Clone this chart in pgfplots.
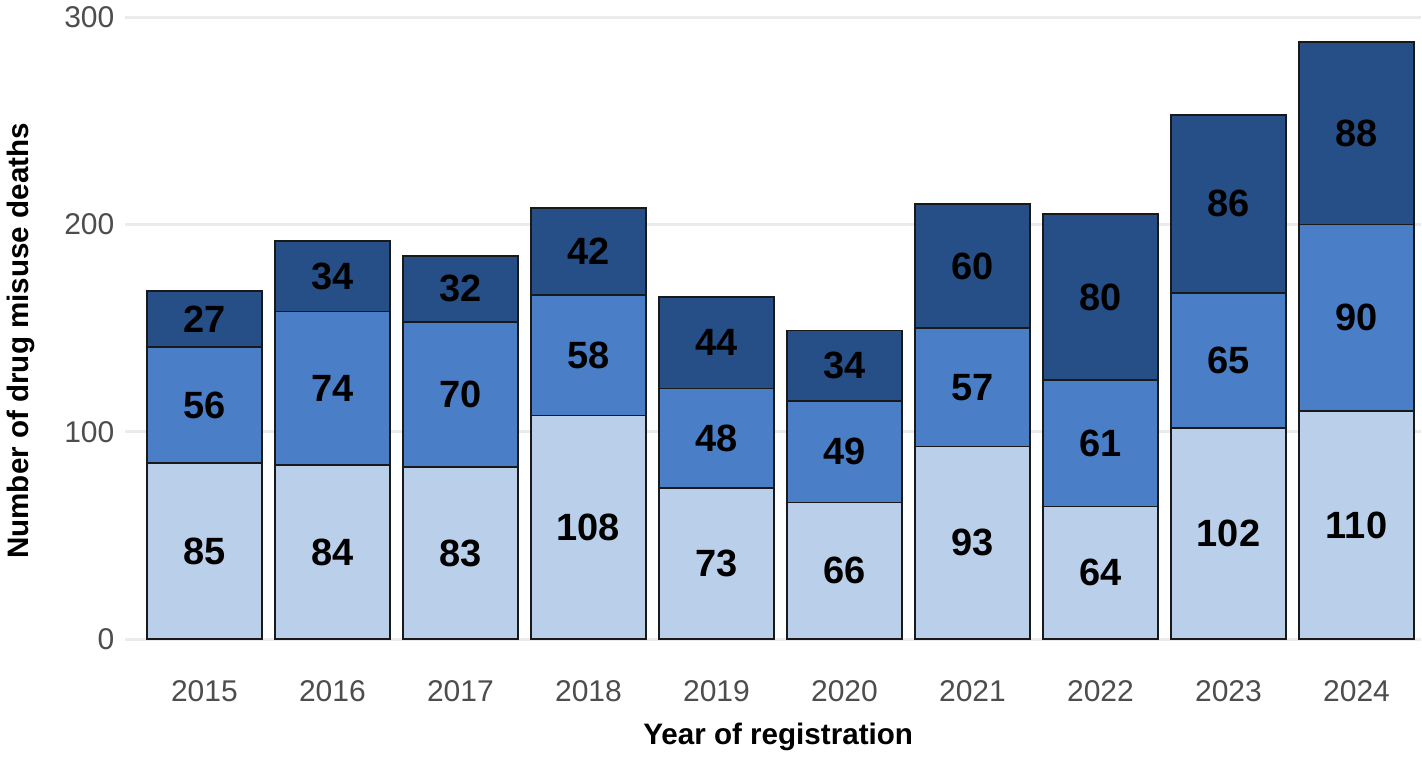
\documentclass[border=0pt]{standalone}
\usepackage{pgfplots}
\pgfplotsset{compat=1.18}
\usepackage{pgfplotstable}
\usepackage{fontspec}
\setmainfont{Liberation Sans}
\definecolor{c1}{HTML}{BACFE9}
\definecolor{c2}{HTML}{4A7EC7}
\definecolor{c3}{HTML}{264F88}
\definecolor{gridgray}{HTML}{EBEBEB}
\definecolor{tickgray}{HTML}{4D4D4D}
\pgfplotstableread{
x a b c
0 85 56 27
1 84 74 34
2 83 70 32
3 108 58 42
4 73 48 44
5 66 49 34
6 93 57 60
7 64 61 80
8 102 65 86
9 110 90 88
}\data
\pgfplotsset{base/.style={
  scale only axis, width=647.5pt, height=334.8pt,
  xmin=-0.617, xmax=9.5, ymin=-15, ymax=308,
  /pgf/number format/assume math mode=true,
}}
\begin{document}
\begin{tikzpicture}
\begin{axis}[base,
  ybar stacked, bar width=0.9,
  axis line style={draw=none}, major tick length=0pt,
  ytick={0,100,200,300}, ymajorgrids,
  grid style={color=gridgray, line width=1.5pt},
  xtick={0,...,9}, xticklabels={2015,2016,2017,2018,2019,2020,2021,2022,2023,2024},
  tick label style={font=\fontsize{15}{18}\selectfont, text=tickgray},
  xticklabel style={anchor=center, yshift=-10.5pt},
  yticklabel style={xshift=-2pt},
  xlabel={Year of registration}, ylabel={Number of drug misuse deaths},
  label style={font=\bfseries\fontsize{14.8}{17}\selectfont},
  xlabel style={at={(axis description cs:0.504,0)}, anchor=center, yshift=-33.5pt},
  ylabel style={at={(axis description cs:-0.081,0.492)}, anchor=center},
]
\addplot[fill=c1, draw=black!90, line width=0.8pt] table[x=x, y=a] {\data};
\addplot[fill=c2, draw=black!90, line width=0.8pt] table[x=x, y=b] {\data};
\addplot[fill=c3, draw=black!90, line width=0.8pt] table[x=x, y=c] {\data};
\end{axis}
\begin{axis}[base, hide axis,
  nodes near coords, point meta=explicit,
  every node near coord/.style={anchor=center, text=black, font=\bfseries\fontsize{19}{22}\selectfont},
]
\addplot[draw=none, mark=none] table[x=x, y expr=\thisrow{a}/2, meta=a] {\data};
\addplot[draw=none, mark=none] table[x=x, y expr=\thisrow{a}+\thisrow{b}/2, meta=b] {\data};
\addplot[draw=none, mark=none] table[x=x, y expr=\thisrow{a}+\thisrow{b}+\thisrow{c}/2, meta=c] {\data};
\end{axis}
\end{tikzpicture}
\end{document}
